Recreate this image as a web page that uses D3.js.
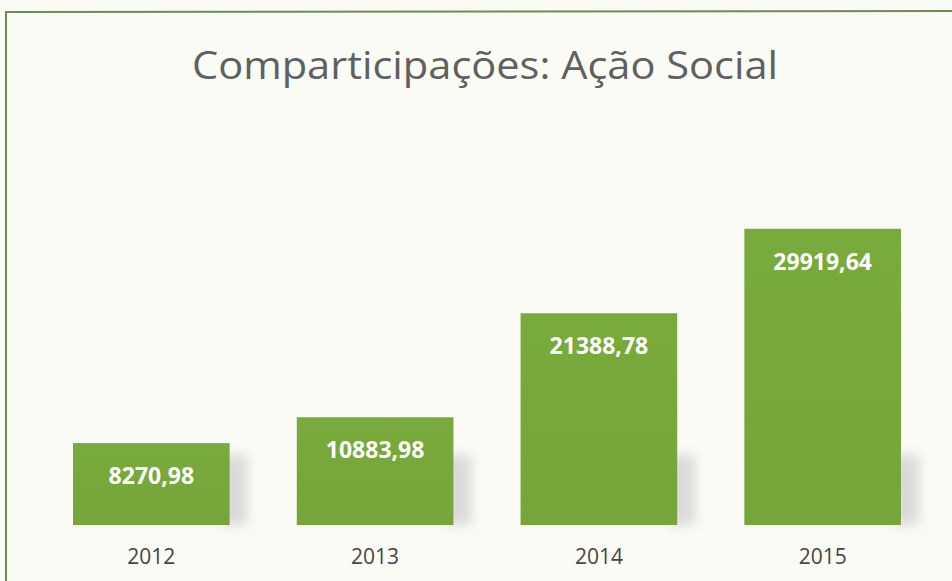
<!DOCTYPE html>
<html><head><meta charset="utf-8">
<script src="https://cdn.jsdelivr.net/npm/d3@7"></script>
<style>html,body{margin:0;padding:0;background:#fbfbf6;}svg{display:block;}</style>
</head><body>
<script>
const categories = ["2012", "2013", "2014", "2015"];
const values = [8270.98, 10883.98, 21388.78, 29919.64];
const valueLabels = ["8270,98", "10883,98", "21388,78", "29919,64"];
const title = "Comparticipações: Ação Social";

const W = 952, H = 581;
const svg = d3.select("body").append("svg").attr("width", W).attr("height", H);

const defs = svg.append("defs");
const blur = defs.append("filter").attr("id", "blur").attr("x", "-50%").attr("y", "-50%").attr("width", "200%").attr("height", "200%");
blur.append("feGaussianBlur").attr("stdDeviation", 6);
const grad = defs.append("linearGradient").attr("id", "barg").attr("x1", 0).attr("y1", 0).attr("x2", 0).attr("y2", 1);
grad.append("stop").attr("offset", "0%").attr("stop-color", "#79aa3c");
grad.append("stop").attr("offset", "100%").attr("stop-color", "#76a53a");

svg.append("rect").attr("width", W).attr("height", H).attr("fill", "#fbfbf6");
// frame
svg.append("path").attr("d", `M6,${H+2} L6,12 L${W+2},11`).attr("fill", "none")
  .attr("stroke", "#6f8c55").attr("stroke-width", 2);

svg.append("text").attr("x", 485).attr("y", 79).attr("text-anchor", "middle")
  .attr("font-family", "Open Sans, sans-serif").attr("font-size", 38).attr("fill", "#5f6060")
  .attr("textLength", 586).attr("lengthAdjust", "spacingAndGlyphs")
  .text(title);

const x = d3.scaleBand().domain(categories).range([73, 901]).paddingInner(0.3).paddingOuter(0);
const y = d3.scaleLinear().domain([0, 30000]).range([525, 228]);

const g = svg.append("g");
// shadows
g.selectAll(".shadow").data(categories).enter().append("rect")
  .attr("x", d => x(d) + x.bandwidth() - 10).attr("y", (d, i) => Math.max(y(values[i]) + 10, 455))
  .attr("width", 28).attr("height", (d, i) => 525 - Math.max(y(values[i]) + 10, 455))
  .attr("fill", "#9aa0a6").attr("opacity", 0.35).attr("filter", "url(#blur)");

g.selectAll(".bar").data(categories).enter().append("rect")
  .attr("x", d => x(d)).attr("y", (d, i) => y(values[i]))
  .attr("width", x.bandwidth()).attr("height", (d, i) => y(0) - y(values[i]))
  .attr("fill", "url(#barg)");

g.selectAll(".vl").data(categories).enter().append("text")
  .attr("x", d => x(d) + x.bandwidth() / 2).attr("y", (d, i) => y(values[i]) + 41)
  .attr("text-anchor", "middle").attr("font-family", "Open Sans, sans-serif")
  .attr("font-weight", "bold").attr("font-size", 23).attr("fill", "#ffffff")
  .text((d, i) => valueLabels[i]);

const xAxis = d3.axisBottom(x).tickSize(0).tickPadding(0);
const ax = svg.append("g").attr("transform", "translate(0,549)").call(xAxis);
ax.select(".domain").remove();
ax.selectAll("text").attr("font-family", "Open Sans, sans-serif").attr("font-size", 21)
  .attr("fill", "#454545").attr("dy", "0.71em");
</script>
</body></html>
